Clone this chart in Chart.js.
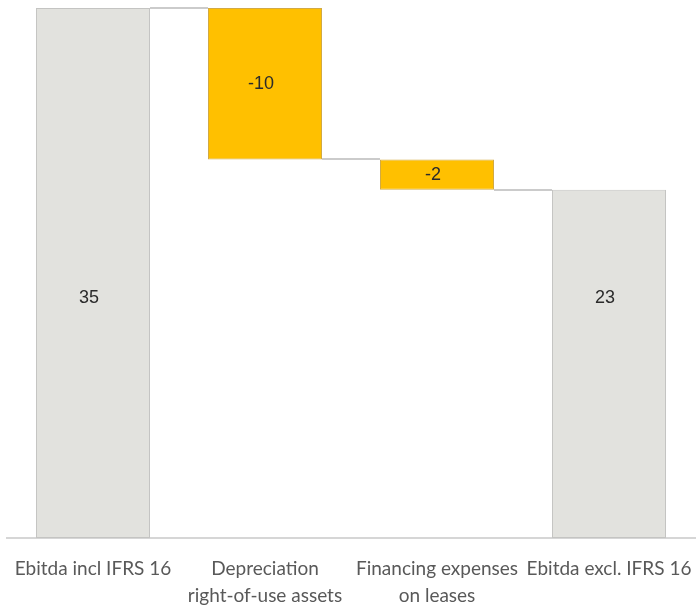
<!DOCTYPE html>
<html>
<head>
<meta charset="utf-8">
<title>Ebitda bridge</title>
<script src="https://cdn.jsdelivr.net/npm/chart.js@4/dist/chart.umd.min.js"></script>
<style>
  html, body { margin: 0; padding: 0; background: #ffffff; }
  #wrap { width: 697px; height: 610px; }
</style>
</head>
<body>
<div id="wrap"><canvas id="chart" width="697" height="610"></canvas></div>
<script>
// Bridge from Ebitda incl. IFRS 16 to Ebitda excl. IFRS 16
const categories = [
  'Ebitda incl IFRS 16',
  ['Depreciation', 'right-of-use assets'],
  ['Financing expenses', 'on leases'],
  'Ebitda excl. IFRS 16'
];
const values = [35, -10, -2, 23];
const kinds = ['total', 'delta', 'delta', 'total'];
const valueLabels = ['35', '-10', '-2', '23'];

// Floating ranges: totals start at zero, deltas hang from the running level
const ranges = [];
let level = 0;
values.forEach((v, i) => {
  if (kinds[i] === 'total') {
    ranges.push([0, v]);
    level = v;
  } else {
    ranges.push([level + v, level]);
    level += v;
  }
});

const GREY = '#e2e2de';
const GREY_EDGE = '#c4c4c2';
const GOLD = '#ffc000';
const GOLD_EDGE = '#d2aa45';

const bridgePlugin = {
  id: 'bridge',
  beforeDatasetsDraw(chart) {
    const { ctx } = chart;
    const meta = chart.getDatasetMeta(0);
    const y = chart.scales.y;
    ctx.save();
    ctx.strokeStyle = '#cbcbcb';
    ctx.lineWidth = 2;
    for (let i = 0; i < meta.data.length - 1; i++) {
      const a = meta.data[i], b = meta.data[i + 1];
      // level reached after bar i
      const r = ranges[i];
      const lvl = kinds[i] === 'total' ? r[1] : r[0];
      const py = Math.round(y.getPixelForValue(lvl));
      ctx.beginPath();
      ctx.moveTo(a.x + a.width / 2, py);
      ctx.lineTo(b.x - b.width / 2, py);
      ctx.stroke();
    }
    ctx.restore();
  },
  afterDatasetsDraw(chart, args, opts) {
    const { ctx } = chart;
    const meta = chart.getDatasetMeta(0);
    const y = chart.scales.y;
    ctx.save();
    ctx.font = '18px "Liberation Sans", Arial, sans-serif';
    ctx.fillStyle = '#2b2b2b';
    ctx.textAlign = 'center';
    ctx.textBaseline = 'middle';
    meta.data.forEach((bar, i) => {
      let py;
      if (kinds[i] === 'total') {
        py = y.getPixelForValue(opts.totalLabelLevel);
      } else {
        py = (bar.y + bar.base) / 2;
      }
      ctx.fillText(valueLabels[i], bar.x - 4, py);
    });
    ctx.restore();
  }
};

new Chart(document.getElementById('chart'), {
  type: 'bar',
  data: {
    labels: categories,
    datasets: [{
      data: ranges,
      backgroundColor: kinds.map(k => k === 'total' ? GREY : GOLD),
      borderColor: kinds.map(k => k === 'total' ? GREY_EDGE : GOLD_EDGE),
      borderWidth: 1,
      borderSkipped: false,
      categoryPercentage: 1,
      barPercentage: 0.663
    }]
  },
  options: {
    responsive: false,
    animation: false,
    devicePixelRatio: 1,
    layout: { padding: { top: 8, left: 7, right: 2, bottom: 0 } },
    plugins: {
      legend: { display: false },
      tooltip: { enabled: false },
      bridge: { totalLabelLevel: 15.85 }
    },
    scales: {
      x: {
        offset: true,
        grid: { display: false, drawTicks: false },
        border: { display: true, color: '#d6d6d6', width: 2 },
        ticks: {
          autoSkip: false,
          maxRotation: 0,
          minRotation: 0,
          padding: 17,
          color: '#595959',
          font: { family: 'Lato, "Open Sans", sans-serif', size: 19, lineHeight: 1.42 }
        },
        afterFit(scale) {
          scale.height = 72;
          scale.paddingLeft = 0;
          scale.paddingRight = 0;
        }
      },
      y: {
        display: false,
        min: 0,
        max: 35
      }
    }
  },
  plugins: [bridgePlugin]
});
</script>
</body>
</html>
